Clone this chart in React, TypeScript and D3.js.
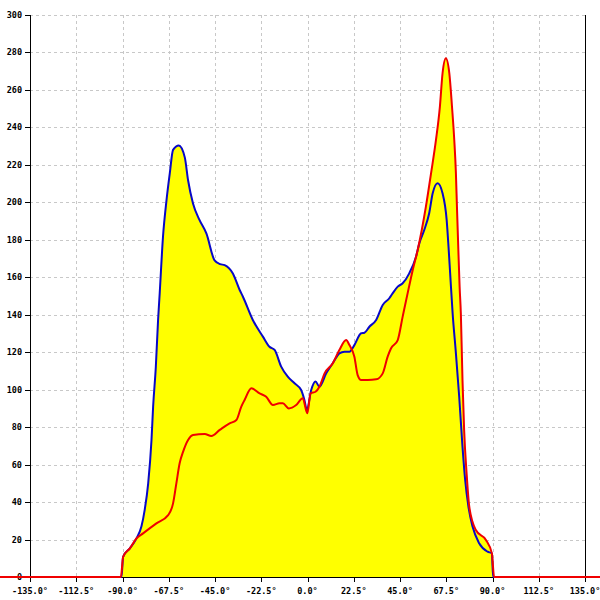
import React from 'react';
import { scaleLinear, area, line, curveMonotoneX, range } from 'd3';

// angle (deg) / value pairs
const blueAngles = [
  -180, -90.5, -89.7, -86.4, -83.2, -80.8, -79.2, -77.5, -75.9, -75.1, -73.8, -72.7, -71.9, -70.3,
  -68.6, -67.0, -65.4, -62.6, -59.7, -58.1, -55.7, -52.5, -49.2, -45.2, -42.5, -40.3, -36.3, -33.0,
  -31.4, -26.6, -21.7, -18.5, -16.0, -12.8, -9.6, -6.3, -3.1, -1.5, -0.3, 1.8, 3.9, 5.8, 9.1, 12.3,
  15.5, 18.0, 20.4, 22.8, 26.1, 27.7, 30.1, 33.4, 36.6, 39.8, 41.4, 43.9, 46.3, 49.5, 52.8, 54.4,
  56.8, 59.2, 60.9, 63.3, 65.7, 67.7, 68.6, 69.4, 70.6, 72.2, 73.8, 75.4, 76.7, 78.3, 80.3, 83.5,
  87.6, 89.7, 90.3, 180,
];
const blueValues = [
  0, 0, 10.8, 15.3, 20.6, 26.9, 35.8, 50, 73, 91, 112, 137, 151.5, 181.6,
  201, 215.4, 228, 230.3, 224, 211.8, 199.4, 190.5, 183.4, 169, 167, 166.5, 162, 153.2,
  149.6, 137.2, 128.3, 122.9, 121.2, 112.3, 106.9, 103.4, 99.8, 94.5, 89.1, 99.8, 104.3, 101.6, 108.7, 114.1,
  119.4, 120.3, 120.3, 123.8, 130.1, 130.4, 133.6, 137.2, 145.2, 148.8, 151.4, 155, 156.8, 162.1, 171, 178.1,
  185.2, 194.2, 204.8, 210.2, 204.8, 190.6, 176.3, 162.1, 140.8, 119.4, 96.2, 69.6, 51.8, 37.5, 26.9, 18,
  13.5, 12.6, 0, 0,
];

const redAngles = [
  -180, -90.8, -89.7, -86.4, -83.2, -80.0, -73.5, -67.8, -65.4, -63.8, -62.2, -60.5, -58.1, -55.7,
  -50.0, -46.8, -42.7, -37.9, -34.6, -32.2, -30.6, -27.3, -23.3, -20.1, -16.8, -13.6, -12.0, -9.1,
  -5.5, -2.3, -0.1, 1.5, 3.9, 5.8, 8.3, 12.3, 15.5, 18.8, 20.4, 22.8, 24.4, 26.1, 29.3, 33.4, 36.6,
  39.0, 40.6, 43.9, 46.3, 48.7, 51.2, 53.6, 57.6, 60.1, 62.5, 64.4, 65.7, 67.3, 69.0, 70.3, 71.4,
  72.2, 72.7, 73.5, 74.0, 74.6, 75.4, 76.2, 77.4, 78.7, 81.9, 86.8, 89.7, 90.8, 180,
];
const redValues = [
  0, 0, 10.8, 15.3, 20.6, 23.3, 28.6, 33, 39.3, 50, 60.7, 66.9, 73.1, 75.8,
  76.3, 75.3, 78.5, 82, 83.8, 91, 94.5, 100.7, 98, 96.2, 91.8, 92.7, 92.7, 90,
  91.8, 95.4, 87.4, 98, 98.9, 101.6, 108.7, 114.1, 121.2, 126.5, 123.8, 117.6, 107.8, 105.2, 105.2, 105.5, 108.7,
  117.6, 122, 126.5, 139, 151.4, 163.9, 174.6, 197.7, 215.5, 233.3, 251, 268.9, 276.9, 268.9, 251, 233.3,
  215.5, 197.7, 171, 155, 140.8, 105.2, 78.5, 55.4, 37.5, 25.1, 19.8, 12.6, 0, 0,
];

const xTicks = range(-135, 136, 22.5);
const yTicks = range(0, 301, 20);

const W = 600;
const H = 600;
const left = 30;
const right = 585;
const top = 15;
const bottom = 577;

const font = '"DejaVu Sans Mono", monospace';

// snap a coordinate to the pixel grid so 1px lines stay crisp
const px = (v: number) => Math.round(v) + 0.5;

export default function App() {
  const x = scaleLinear().domain([-135, 135]).range([left, right]);
  const y = scaleLinear().domain([0, 300]).range([bottom, top]);

  const blue = blueAngles.map((a, i) => [a, blueValues[i]] as [number, number]);
  const red = redAngles.map((a, i) => [a, redValues[i]] as [number, number]);

  const fill = area<[number, number]>()
    .x((d) => x(d[0]))
    .y0(y(0))
    .y1((d) => y(d[1]))
    .curve(curveMonotoneX);
  const path = line<[number, number]>()
    .x((d) => x(d[0]))
    .y((d) => y(d[1]))
    .curve(curveMonotoneX);

  return (
    <div style={{ position: 'absolute', left: 0, top: 0 }}>
      <svg width={W} height={H} style={{ display: 'block', background: '#fff' }}>
        {/* grid */}
        {xTicks.map((t) => (
          <line key={'gx' + t} x1={px(x(t))} x2={px(x(t))} y1={top} y2={bottom}
            stroke="#c8c8c8" strokeDasharray="3,3" />
        ))}
        {yTicks.map((t) => (
          <line key={'gy' + t} x1={left} x2={right} y1={px(y(t))} y2={px(y(t))}
            stroke="#c8c8c8" strokeDasharray="3,3" />
        ))}

        {/* filled areas */}
        <path d={fill(blue) ?? ''} fill="#ffff00" />
        <path d={fill(red) ?? ''} fill="#ffff00" />

        {/* axes */}
        <line x1={px(left)} x2={px(left)} y1={top} y2={bottom + 5} stroke="#000" />
        <line x1={px(right)} x2={px(right)} y1={top} y2={bottom + 5} stroke="#000" />
        <line x1={left} x2={right} y1={px(bottom)} y2={px(bottom)} stroke="#000" />
        {yTicks.map((t) => (
          <g key={'ty' + t}>
            <line x1={left - 5} x2={left} y1={px(y(t))} y2={px(y(t))} stroke="#000" />
            <text x={22} y={y(t)} dy="0.35em" textAnchor="end" fontFamily={font} fontSize={8.5}
              fontWeight="bold" fill="#000">
              {t}
            </text>
          </g>
        ))}
        {xTicks.map((t) => (
          <g key={'tx' + t}>
            <line x1={px(x(t))} x2={px(x(t))} y1={bottom} y2={bottom + 5} stroke="#000" />
            <text x={x(t)} y={594} textAnchor="middle" fontFamily={font} fontSize={8.5}
              fontWeight="bold" fill="#000">
              {t.toFixed(1) + '°'}
            </text>
          </g>
        ))}

        {/* series lines */}
        <path d={path(blue) ?? ''} fill="none" stroke="#0808c8" strokeWidth={2} strokeLinejoin="round" />
        <path d={path(red) ?? ''} fill="none" stroke="#f00000" strokeWidth={2} strokeLinejoin="round" />
      </svg>
    </div>
  );
}
